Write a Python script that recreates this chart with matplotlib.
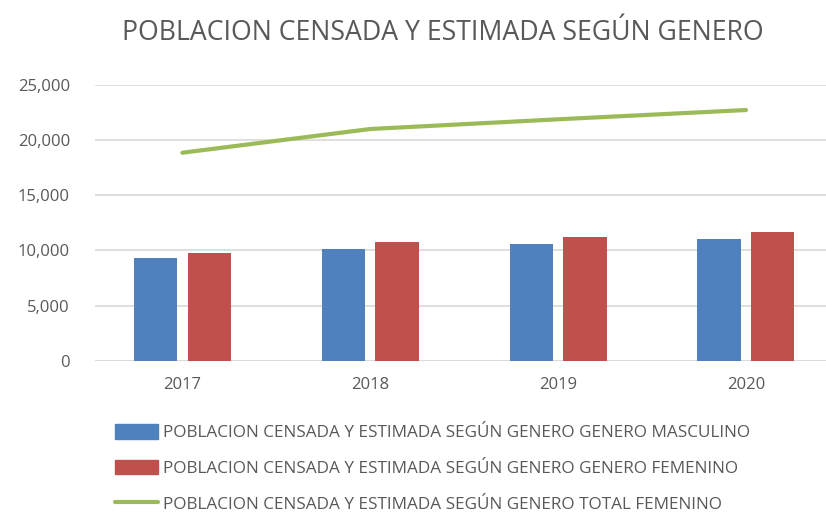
import matplotlib.pyplot as plt
import matplotlib.patches as mpatches
import matplotlib.lines as mlines
import numpy as np

# data
years = ["2017", "2018", "2019", "2020"]
masculino = [9290, 10160, 10610, 11040]
femenino = [9740, 10760, 11220, 11640]
total_femenino = [18860, 21010, 21890, 22730]

lbl_masc = "POBLACION CENSADA Y ESTIMADA SEGÚN GENERO GENERO MASCULINO"
lbl_fem = "POBLACION CENSADA Y ESTIMADA SEGÚN GENERO GENERO FEMENINO"
lbl_tot = "POBLACION CENSADA Y ESTIMADA SEGÚN GENERO TOTAL FEMENINO"

plt.rcParams['font.family'] = ['Open Sans', 'DejaVu Sans']

blue = "#4F81BD"
red = "#C0504D"
green = "#9BBB59"
txt = "#595959"

fig = plt.figure(figsize=(8.26, 5.13), dpi=100)
ax = fig.add_axes([95/826, 1 - 360.7/513, (826 - 95)/826, (360.7 - 85)/513])

x = np.arange(len(years))
w = 0.23
ax.bar(x - 0.143, masculino, w, color=blue, zorder=3)
ax.bar(x + 0.143, femenino, w, color=red, zorder=3)
ax.plot(x, total_femenino, color=green, lw=3, solid_capstyle='round', zorder=4)

ax.set_xlim(-0.465, 3.426)
ax.set_ylim(0, 25000)
ax.set_yticks(range(0, 25001, 5000))
ax.set_yticklabels([f"{v:,}" for v in range(0, 25001, 5000)])
ax.set_xticks(x)
ax.set_xticklabels(years)
ax.tick_params(length=0, labelsize=12, colors=txt)
ax.tick_params(axis='y', pad=18)
ax.tick_params(axis='x', pad=12)
ax.grid(axis='y', color="#D9D9D9", lw=1.2, zorder=0)
for s in ax.spines.values():
    s.set_visible(False)
ax.axhline(0, color="#D9D9D9", lw=1.2, zorder=2)

fig.text(0.536, 1 - 33/513, "POBLACION CENSADA Y ESTIMADA SEGÚN GENERO", ha='center', va='center',
         fontsize=19.2, color=txt)

handles = [mpatches.Patch(color=blue), mpatches.Patch(color=red),
           mlines.Line2D([], [], color=green, lw=3, solid_capstyle='round')]
fig.legend(handles, [lbl_masc, lbl_fem, lbl_tot], loc='upper left',
           bbox_to_anchor=(108/826, 1 - 417.5/513), frameon=False, fontsize=12.3,
           labelcolor=txt, handlelength=2.5, handleheight=0.9, handletextpad=0.3,
           labelspacing=1.1, borderaxespad=0)

fig.savefig("out.png", dpi=100)
